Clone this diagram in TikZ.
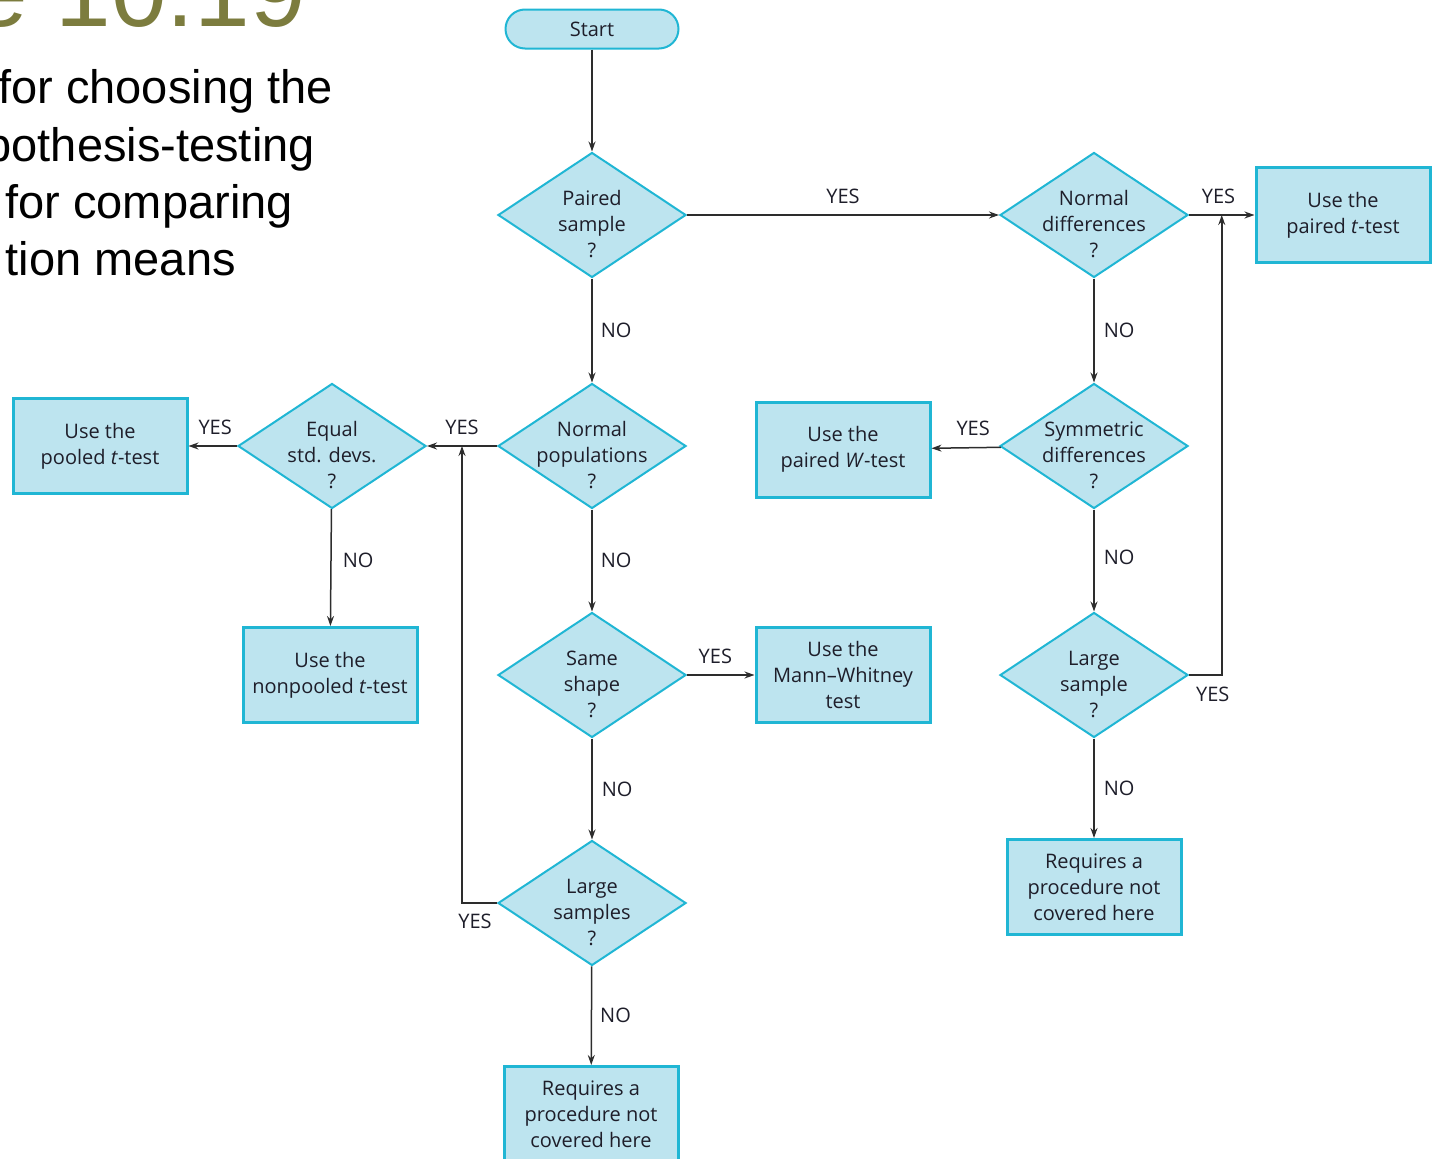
\documentclass[tikz,border=0pt]{standalone}
\usepackage{fontspec}
\setmainfont{Open Sans}
\newfontfamily\arialf{Liberation Sans}
\usetikzlibrary{shapes.geometric,arrows.meta,calc}
\definecolor{boxfill}{RGB}{189,228,239}
\definecolor{boxline}{RGB}{32,182,212}
\definecolor{olivet}{RGB}{124,124,62}
\definecolor{lnc}{RGB}{45,45,45}
\definecolor{textc}{RGB}{30,30,42}
\newcommand{\dtxt}[1]{\makebox[0pt]{\raisebox{-16pt}[0pt][0pt]{\begin{tabular}{@{}c@{}}#1\end{tabular}}}}
\begin{document}
\begin{tikzpicture}[x=1pt,y=-1pt,
  every node/.style={font=\fontsize{20}{26}\selectfont, text=textc},
  dia/.style={diamond, aspect=1.504, minimum width=188, minimum height=125, inner sep=0,
    draw=boxline, fill=boxfill, line width=2},
  res/.style={rectangle, minimum width=174, minimum height=95, inner sep=0, align=center,
    draw=boxline, fill=boxfill, line width=3},
  startbox/.style={rectangle, rounded corners=19.5, minimum width=173, minimum height=39,
    inner sep=0, draw=boxline, fill=boxfill, line width=2},
  arr/.style={draw=lnc, line width=1.5, -{Stealth[length=10pt,width=7pt]}},
  lab/.style={inner sep=0, font=\fontsize{20}{24}\selectfont},
  sub/.style={anchor=base east, inner sep=0, font=\arialf\fontsize{47}{57}\selectfont, text=black}
]
\useasboundingbox (0,0) rectangle (1433,1159);

% title and subtitle (cut at the left margin)
\node[anchor=base east, inner sep=0, font=\arialf\fontsize{100}{100}\selectfont, text=olivet] (title) at (306,27) {e 10.19};
\node[sub] (s1) at (333,103) {for choosing the};
\node[sub] (s2) at (315,161) {pothesis-testing};
\node[sub] (s3) at (293,218) {for comparing};
\node[sub] (s4) at (236,275) {tion means};

% nodes
\node[startbox] (start) at (592,29) {Start};
\node[dia] (ps) at (592,215) {\dtxt{Paired\\sample\\?}};
\node[dia] (nd) at (1094,215) {\dtxt{Normal\\differences\\?}};
\node[res] (pt) at (1343,215) {Use the\\paired \textit{t}-test};
\node[dia] (np) at (592,446) {\dtxt{Normal\\populations\\?}};
\node[dia] (eq) at (332,446) {\dtxt{Equal\\std. devs.\\?}};
\node[res] (pool) at (100,446) {Use the\\pooled \textit{t}-test};
\node[res] (npool) at (330,675) {Use the\\nonpooled \textit{t}-test};
\node[dia] (sd) at (1094,446) {\dtxt{Symmetric\\differences\\?}};
\node[res] (wt) at (843,449.5) {Use the\\paired \textit{W}-test};
\node[dia] (ss) at (592,675) {\dtxt{Same\\shape\\?}};
\node[res] (mw) at (843,675) {Use the\\Mann--Whitney\\test};
\node[dia] (lsr) at (1094,675) {\dtxt{Large\\sample\\?}};
\node[res] (rqr) at (1094,887) {Requires a\\procedure not\\covered here};
\node[dia] (ls) at (592,903) {\dtxt{Large\\samples\\?}};
\node[res] (rq) at (591,1114) {Requires a\\procedure not\\covered here};

\coordinate (j1) at ($(nd.east)!0.5!(pt.west)$);
\coordinate (j2) at ($(eq.east)!0.5!(np.west)$);

% connectors
\draw[arr] (start) -- (ps);
\draw[arr] (ps) -- node[lab, above=11, pos=0.5] {YES} (nd);
\draw[arr] (nd) -- node[lab, above=11, pos=0.45] {YES} (pt);
\draw[arr] (nd) -- node[lab, right=9, pos=0.5] {NO} (sd);
\draw[arr] (ps) -- node[lab, right=8, pos=0.5] {NO} (np);
\draw[arr] (np) -- node[lab, above=11, pos=0.5] {YES} (eq);
\draw[arr] (eq) -- node[lab, above=11, pos=0.45] {YES} (pool);
\draw[arr] (eq) -- node[lab, right=11, pos=0.44] {NO} (npool);
\draw[arr] (np) -- node[lab, right=8, pos=0.5] {NO} (ss);
\draw[arr] (ss) -- node[lab, above=11, pos=0.42] {YES} (mw);
\draw[arr] (ss) -- node[lab, right=9, pos=0.5] {NO} (ls);
\draw[arr] (ls) -- node[lab, right=8, pos=0.5] {NO} (rq);
\draw[arr] (ls.west) -| node[lab, below=10, xshift=13, pos=0.5] {YES} (j2);
\draw[arr] (sd) -- node[lab, above=11, pos=0.4] {YES} (wt);
\draw[arr] (sd) -- node[lab, right=9, pos=0.47] {NO} (lsr);
\draw[arr] (lsr.east) -| node[lab, below=11, xshift=-9, pos=0.5] {YES} (j1);
\draw[arr] (lsr) -- node[lab, right=9, pos=0.5] {NO} (rqr);
\end{tikzpicture}
\end{document}
